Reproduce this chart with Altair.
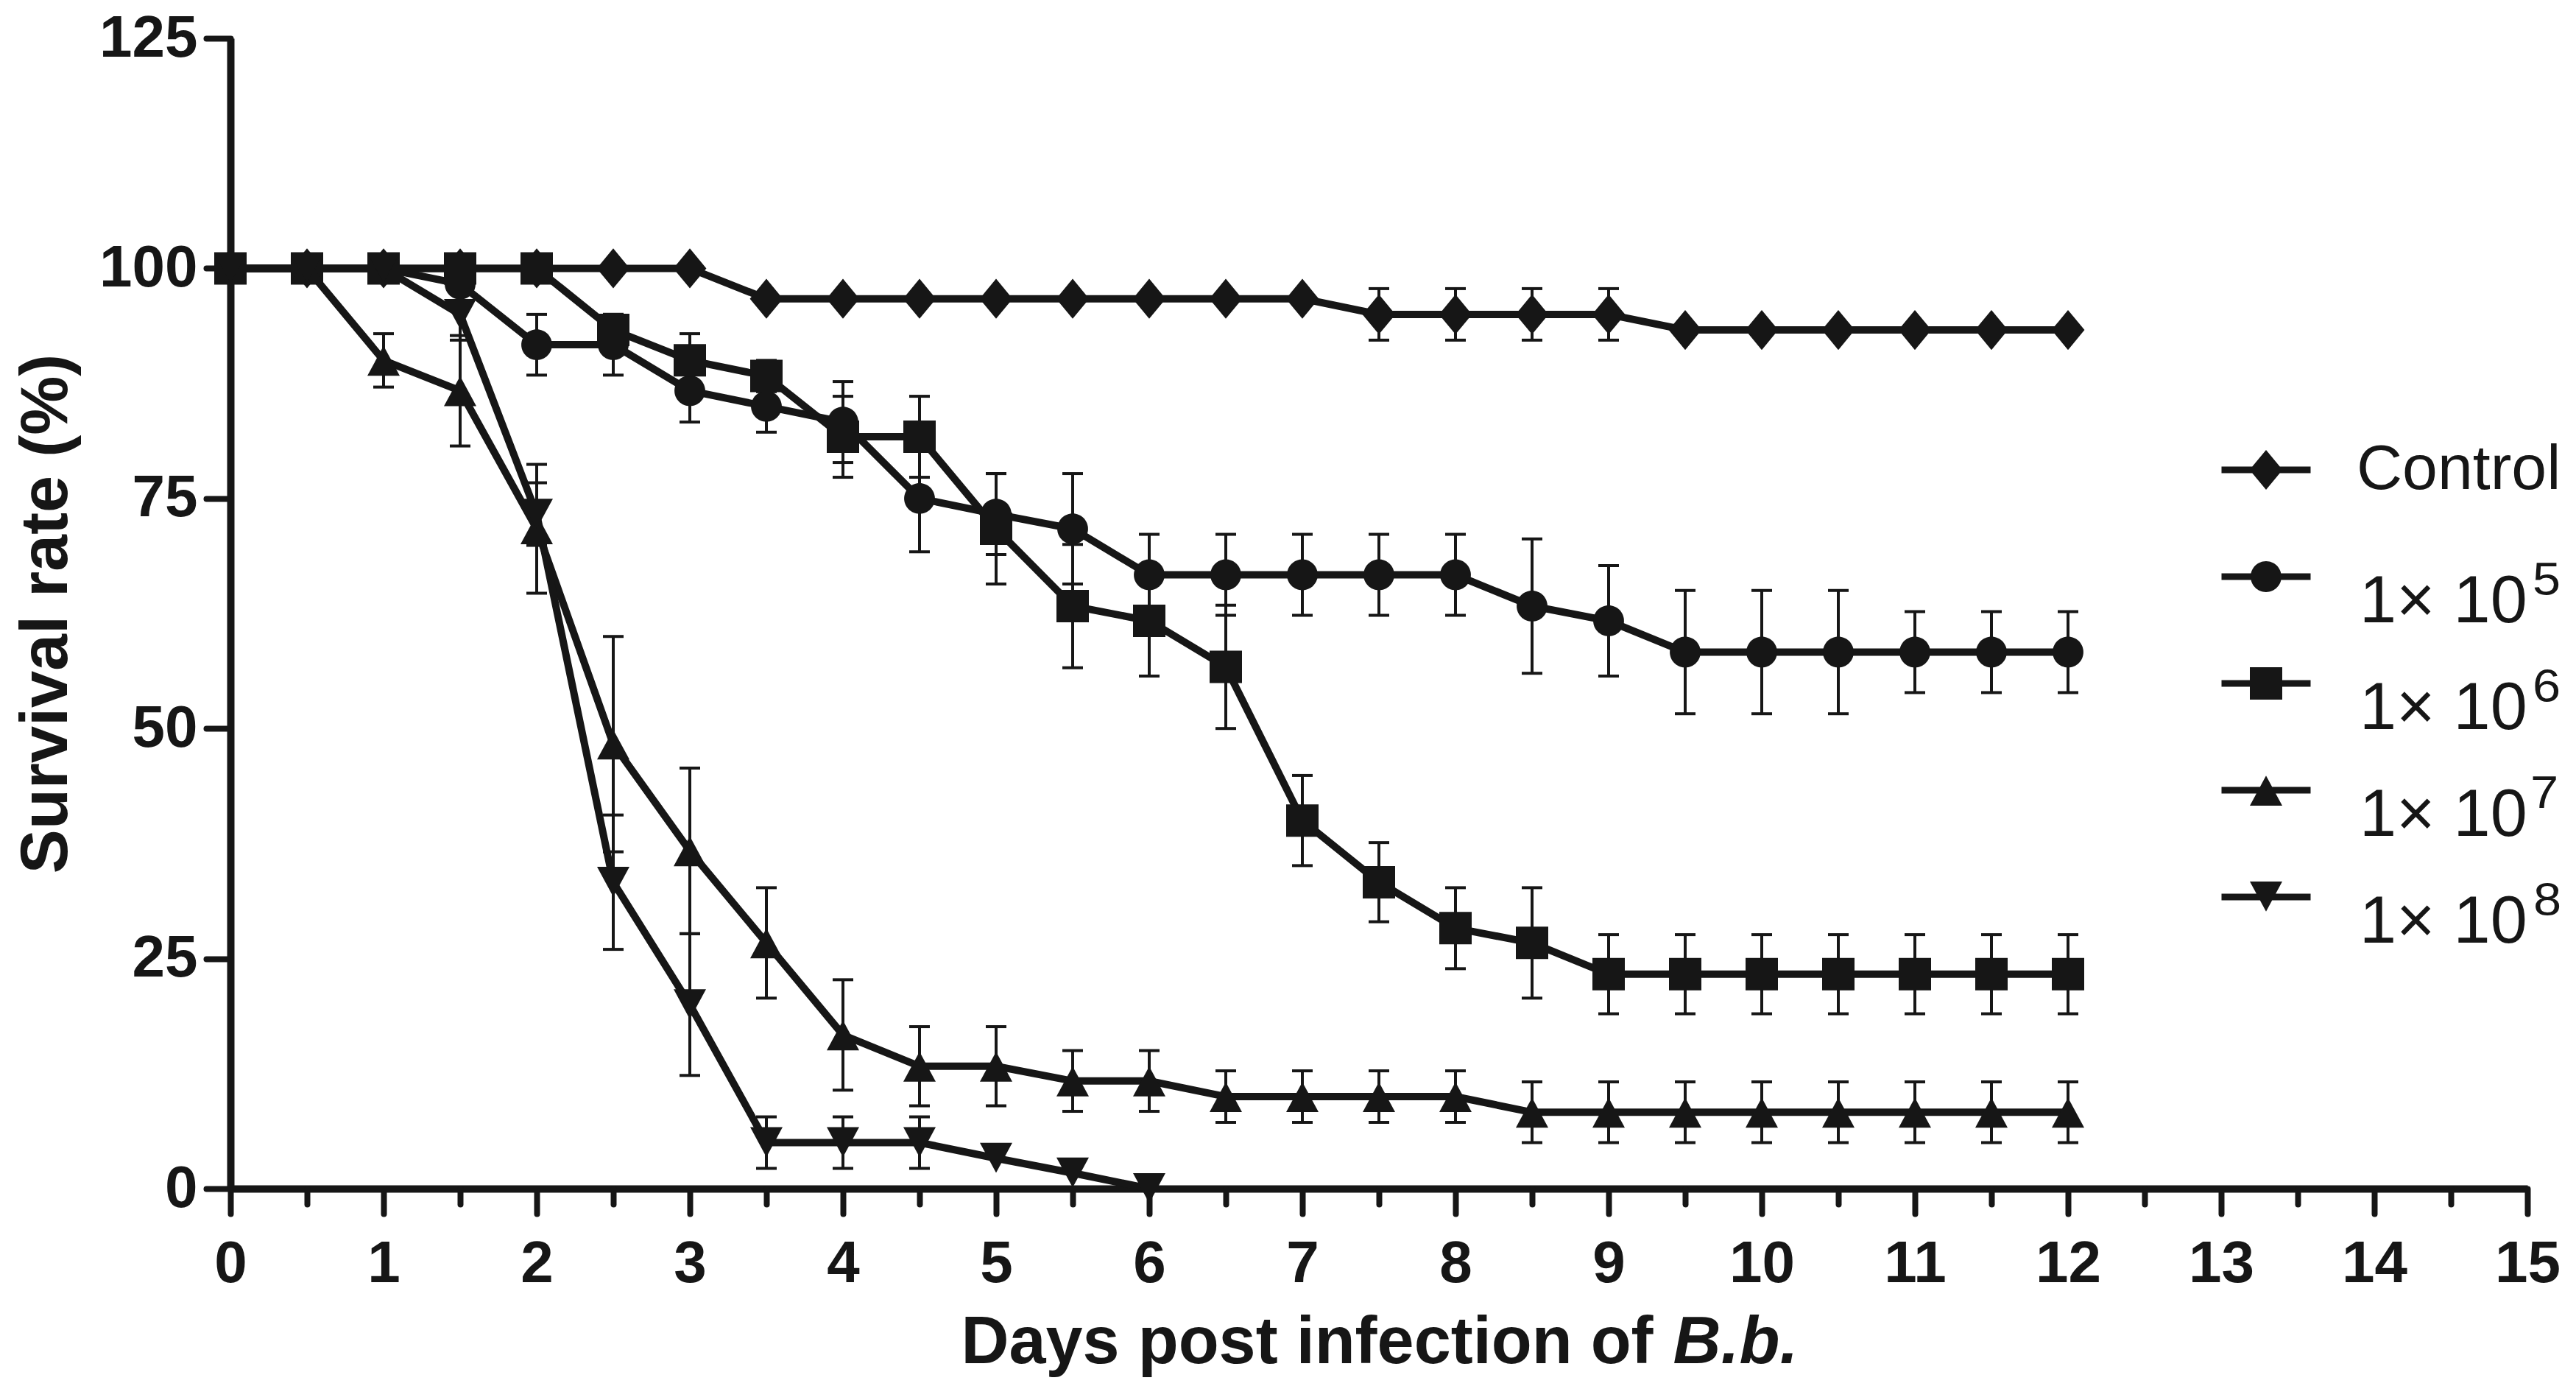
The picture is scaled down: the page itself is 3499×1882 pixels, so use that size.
import altair as alt
import pandas as pd

INK = "#161616"

# ---------------- data ----------------
days = [0, 0.5, 1, 1.5, 2, 2.5, 3, 3.5, 4, 4.5, 5, 5.5, 6, 6.5, 7, 7.5, 8,
        8.5, 9, 9.5, 10, 10.5, 11, 11.5, 12]

series_names = ["Control", "1× 10⁵", "1× 10⁶", "1× 10⁷", "1× 10⁸"]
dose_base = "1× 10"

control = [100, 100, 100, 100, 100, 100, 100, 96.7, 96.7, 96.7, 96.7, 96.7, 96.7,
           96.7, 96.7, 95, 95, 95, 95, 93.3, 93.3, 93.3, 93.3, 93.3, 93.3]
control_err = [0, 0, 0, 0, 0, 0, 0, 0, 0, 0, 0, 0, 0, 0, 0, 2.8, 2.8, 2.8, 2.8,
               0, 0, 0, 0, 0, 0]

dose5 = [100, 100, 100, 98.3, 91.7, 91.7, 86.7, 85, 83.3, 75, 73.3, 71.7, 66.7,
         66.7, 66.7, 66.7, 66.7, 63.3, 61.7, 58.3, 58.3, 58.3, 58.3, 58.3, 58.3]
dose5_err = [0, 0, 0, 0, 3.3, 3.3, 3.4, 2.8, 4.4, 5.8, 4.4, 6.0, 4.4, 4.4, 4.4,
             4.4, 4.4, 7.3, 6.0, 6.7, 6.7, 6.7, 4.4, 4.4, 4.4]

dose6 = [100, 100, 100, 100, 100, 93.3, 90, 88.3, 81.7, 81.7, 71.7, 63.3, 61.7,
         56.7, 40, 33.3, 28.3, 26.7, 23.3, 23.3, 23.3, 23.3, 23.3, 23.3, 23.3]
dose6_err = [0, 0, 0, 0, 0, 1.7, 2.9, 1.7, 4.4, 4.4, 6.0, 6.7, 6.0, 6.7, 4.9,
             4.3, 4.4, 6.0, 4.3, 4.3, 4.3, 4.3, 4.3, 4.3, 4.3]

dose7 = [100, 100, 90, 86.7, 71.7, 48.3, 36.7, 26.7, 16.7, 13.3, 13.3, 11.7,
         11.7, 10, 10, 10, 10, 8.3, 8.3, 8.3, 8.3, 8.3, 8.3, 8.3, 8.3]
dose7_err = [0, 0, 2.9, 6.0, 7.0, 11.7, 9.0, 6.0, 6.0, 4.3, 4.3, 3.3, 3.3, 2.8,
             2.8, 2.8, 2.8, 3.3, 3.3, 3.3, 3.3, 3.3, 3.3, 3.3, 3.3]

dose8 = [100, 100, 100, 95, 73.3, 33.3, 20, 5, 5, 5, 3.3, 1.7, 0]
dose8_err = [0, 0, 0, 2.8, 3.4, 7.3, 7.7, 2.8, 2.8, 2.8, 0, 0, 0]

x_major = list(range(0, 16))
x_minor = [i + 0.5 for i in range(0, 15)]
y_ticks = [0, 25, 50, 75, 100, 125]

# ---------------- marker shapes (unit paths) ----------------
LINE = "M-2.75,-0.21H2.75V0.21H-2.75Z"
m_diamond = "M0,-1.23L1.02,0L0,1.23L-1.02,0Z"
m_circle = "M-0.95,0A0.95,0.95 0 1,1 0.95,0A0.95,0.95 0 1,1 -0.95,0Z"
m_square = "M-1,-1H1V1H-1Z"
m_up = "M0,-0.9L1,0.95H-1Z"
m_down = "M-1,-0.95H1L0,0.9Z"
markers = [m_diamond, m_circle, m_square, m_up, m_down]
legend_symbols = [LINE + m for m in markers]

rows = []
for name, vals, errs in zip(series_names,
                            [control, dose5, dose6, dose7, dose8],
                            [control_err, dose5_err, dose6_err, dose7_err, dose8_err]):
    for d, v, e in zip(days, vals, errs):
        rows.append({"series": name, "day": d, "rate": v, "err": e,
                     "lo": v - e, "hi": v + e})
df = pd.DataFrame(rows)
err_df = df[df["err"] > 0].reset_index(drop=True)

FONT = "Liberation Sans"
xscale = alt.Scale(domain=[0, 15], nice=False, zero=False)
yscale = alt.Scale(domain=[0, 125], nice=False)

common_axis = dict(grid=False, domainColor=INK, tickColor=INK, labelColor=INK,
                   titleColor=INK, labelFont=FONT, titleFont=FONT,
                   labelFontWeight="bold", titleFontWeight="bold",
                   labelFontSize=80, titleFontSize=90, tickWidth=8,
                   domainWidth=10, tickCap="round", labelFlush=False,
                   labelOverlap=False)

y_axis = alt.Axis(values=y_ticks, title="Survival rate (%)", tickSize=33,
                  labelPadding=12, titlePadding=25, orient="left", **common_axis)

x_axis_major = alt.Axis(values=x_major, orient="bottom", tickSize=34,
                        labelPadding=29, title="Days post infection of",
                        titleX=992, titleY=236, titleAlign="left",
                        titleBaseline="alphabetic", format="d", **common_axis)

x_axis_minor = alt.Axis(values=x_minor, orient="bottom", tickSize=21,
                        labels=False, domain=False, title="B.b.",
                        titleFontStyle="italic", titleX=1959, titleY=236,
                        titleAlign="left", titleBaseline="alphabetic",
                        **common_axis)

X_none = alt.X("day:Q", scale=xscale, axis=None)
Y_main = alt.Y("rate:Q", scale=yscale, axis=y_axis)

bars = alt.Chart(err_df).mark_rule(color=INK, strokeWidth=4).encode(
    x=X_none,
    y=alt.Y("lo:Q", scale=yscale, axis=y_axis),
    y2="hi:Q",
)

caps = alt.Chart(err_df).transform_fold(["lo", "hi"], as_=["end", "val"]).mark_tick(
    color=INK, orient="horizontal", size=28, thickness=4, opacity=1
).encode(
    x=X_none,
    y=alt.Y("val:Q", scale=yscale, axis=y_axis),
)

lines = alt.Chart(df).mark_line(color=INK, strokeWidth=10, strokeJoin="miter").encode(
    x=alt.X("day:Q", scale=xscale, axis=x_axis_major),
    y=Y_main,
    detail="series:N",
    order="day:Q",
)

points = alt.Chart(df).mark_point(filled=True, color=INK, opacity=1, size=1936,
                                  strokeWidth=0).encode(
    x=alt.X("day:Q", scale=xscale, axis=x_axis_minor),
    y=Y_main,
    shape=alt.Shape("series:N", scale=alt.Scale(domain=series_names, range=markers),
                    legend=None),
)

legend_common = dict(title=None, orient="none", labelFont=FONT, labelColor=INK,
                     labelFontWeight="normal", symbolFillColor=INK,
                     symbolStrokeWidth=0, padding=0, labelLimit=800,
                     symbolSize=1936, legendX=2722)


def legend_layer(rng, **legend_kw):
    return alt.Chart(df).transform_filter("false").mark_point(
        filled=True, color=INK, opacity=1, size=1936, strokeWidth=0
    ).encode(
        x=X_none,
        y=Y_main,
        shape=alt.Shape("series:N", scale=alt.Scale(domain=series_names, range=rng),
                        legend=alt.Legend(**legend_common, **legend_kw)),
    )


LEG_Y = 543
# symbols + "Control"
leg_symbols = legend_layer(
    legend_symbols, legendY=LEG_Y, labelFontSize=86, labelOffset=80,
    rowPadding=59, symbolOpacity=1,
    labelExpr="datum.label == 'Control' ? 'Control' : ' '",
)

# dose base text "1× 10" (slightly lowered, as in the figure)
leg_base = legend_layer(
    [m_square] * 5, legendY=LEG_Y + 33, labelFontSize=90, labelOffset=80,
    rowPadding=55, symbolOpacity=0,
    labelExpr="datum.label == 'Control' ? ' ' : '" + dose_base + "'",
)

# exponents
leg_exp = legend_layer(
    [m_square] * 5, legendY=LEG_Y + 9, labelFontSize=108, labelOffset=294,
    rowPadding=37, symbolOpacity=0,
    labelExpr="datum.label == 'Control' ? ' ' : slice(datum.label, -1)",
)

chart = alt.layer(bars, caps, lines, points, leg_symbols, leg_base, leg_exp).resolve_scale(
    shape="independent"
).resolve_axis(x="independent", y="shared").properties(
    width=3120, height=1562,
    padding={"left": 305, "top": 44, "right": 56, "bottom": 256},
    autosize=alt.AutoSizeParams(type="none"),
    background="white",
).configure_view(stroke=None)

chart.save("out.html", embed_options={"renderer": "svg", "actions": False})
